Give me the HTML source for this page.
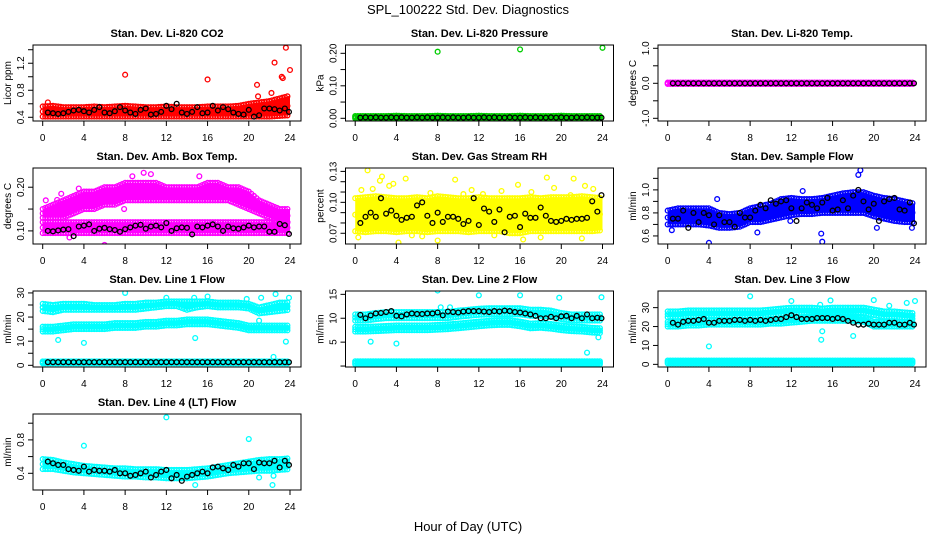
<!DOCTYPE html>
<html><head><meta charset="utf-8">
<style>
html,body{margin:0;padding:0;background:#fff;}
svg{display:block;font-family:"Liberation Sans",Arial,sans-serif;}
</style></head>
<body>
<svg id="chart" width="936" height="540" viewBox="0 0 936 540" xmlns="http://www.w3.org/2000/svg">
<rect width="936" height="540" fill="#fff"/>
<text x="468" y="14" text-anchor="middle" font-size="13">SPL_100222  Std. Dev. Diagnostics</text>
<text x="468" y="531" text-anchor="middle" font-size="13">Hour of Day (UTC)</text>
</svg>
<script>
const hours25=[0,1,2,3,4,5,6,7,8,9,10,11,12,13,14,15,16,17,18,19,20,21,22,23,24];
const hours48=[0.5,1,1.5,2,2.5,3,3.5,4,4.5,5,5.5,6,6.5,7,7.5,8,8.5,9,9.5,10,10.5,11,11.5,12,12.5,13,13.5,14,14.5,15,15.5,16,16.5,17,17.5,18,18.5,19,19.5,20,20.5,21,21.5,22,22.5,23,23.5,23.9];
const xTicks=[0,4,8,12,16,20,24];

const co2Lo=[0.41,0.41,0.41,0.41,0.41,0.41,0.41,0.41,0.41,0.41,0.41,0.41,0.41,0.41,0.41,0.41,0.41,0.41,0.41,0.41,0.41,0.41,0.41,0.42,0.43];
const co2Hi=[0.56,0.57,0.55,0.55,0.55,0.56,0.55,0.56,0.57,0.56,0.55,0.55,0.56,0.55,0.55,0.55,0.56,0.56,0.56,0.57,0.60,0.62,0.64,0.68,0.72];
const co2Black=[0.47,0.46,0.45,0.46,0.48,0.50,0.51,0.49,0.47,0.51,0.55,0.47,0.46,0.49,0.55,0.50,0.47,0.45,0.51,0.53,0.44,0.45,0.48,0.57,0.52,0.60,0.47,0.45,0.48,0.55,0.46,0.47,0.57,0.50,0.55,0.52,0.47,0.45,0.44,0.51,0.41,0.43,0.53,0.53,0.52,0.50,0.53,0.48];
const co2OutX=[8,16,20.8,20.9,22.5,23.3,23.2,23.6,24,0.5,22.2];
const co2OutY=[1.03,0.96,0.88,0.71,1.21,0.98,1.0,1.43,1.10,0.62,0.76];

const pressLo=[0,0,0,0,0,0,0,0,0,0,0,0,0,0,0,0,0,0,0,0,0,0,0,0,0];
const pressHi=[0.007,0.007,0.007,0.007,0.008,0.007,0.007,0.007,0.008,0.007,0.007,0.007,0.008,0.007,0.007,0.007,0.008,0.007,0.007,0.007,0.008,0.007,0.007,0.007,0.007];
const pressBlack=[0.002,0.003,0.002,0.003,0.002,0.002,0.003,0.002,0.003,0.002,0.002,0.003,0.002,0.003,0.002,0.002,0.003,0.002,0.003,0.002,0.002,0.003,0.002,0.002,0.003,0.002,0.003,0.002,0.002,0.003,0.002,0.002,0.003,0.002,0.003,0.002,0.002,0.003,0.002,0.003,0.002,0.002,0.003,0.002,0.003,0.002,0.002,0.002];
const pressOutX=[8,16,24];
const pressOutY=[0.205,0.212,0.217];

const tempLo=[-0.02,-0.02,-0.02,-0.02,-0.02,-0.02,-0.02,-0.02,-0.02,-0.02,-0.02,-0.02,-0.02,-0.02,-0.02,-0.02,-0.02,-0.02,-0.02,-0.02,-0.02,-0.02,-0.02,-0.02,-0.02];
const tempHi=[0.02,0.02,0.02,0.02,0.02,0.02,0.02,0.02,0.02,0.02,0.02,0.02,0.02,0.02,0.02,0.02,0.02,0.02,0.02,0.02,0.02,0.02,0.02,0.02,0.02];
const tempBlack=[0,0,0,0,0,0,0,0,0,0,0,0,0,0,0,0,0,0,0,0,0,0,0,0,0,0,0,0,0,0,0,0,0,0,0,0,0,0,0,0,0,0,0,0,0,0,0,0];

const ambUpLo=[0.13,0.13,0.13,0.14,0.15,0.15,0.16,0.16,0.17,0.17,0.17,0.17,0.17,0.17,0.17,0.17,0.17,0.17,0.17,0.16,0.15,0.14,0.13,0.12,0.12];
const ambUpHi=[0.15,0.16,0.17,0.18,0.19,0.19,0.20,0.20,0.21,0.21,0.21,0.21,0.20,0.20,0.20,0.20,0.21,0.21,0.20,0.20,0.19,0.17,0.16,0.15,0.15];
const ambLowLo=[0.095,0.095,0.095,0.095,0.095,0.095,0.095,0.095,0.095,0.095,0.095,0.095,0.095,0.095,0.095,0.095,0.095,0.095,0.095,0.095,0.095,0.095,0.095,0.095,0.095];
const ambLowHi=[0.12,0.12,0.12,0.12,0.12,0.12,0.12,0.12,0.12,0.12,0.12,0.12,0.12,0.12,0.12,0.12,0.12,0.12,0.12,0.12,0.12,0.12,0.12,0.12,0.12];
const ambBlack=[0.100,0.099,0.101,0.103,0.104,0.088,0.110,0.112,0.115,0.100,0.105,0.107,0.104,0.102,0.098,0.104,0.108,0.112,0.114,0.105,0.110,0.112,0.108,0.118,0.100,0.106,0.108,0.107,0.092,0.110,0.108,0.112,0.115,0.110,0.100,0.110,0.106,0.105,0.108,0.112,0.108,0.110,0.110,0.098,0.098,0.116,0.113,0.093];
const ambOutX=[0.3,1.4,1.8,3.5,8.7,9.8,10.5,15.2,6,2.6,7.9];
const ambOutY=[0.170,0.171,0.185,0.197,0.225,0.233,0.230,0.225,0.068,0.085,0.150];

const rhLo=[0.072,0.071,0.072,0.072,0.071,0.072,0.072,0.071,0.072,0.072,0.072,0.071,0.072,0.072,0.072,0.070,0.070,0.072,0.072,0.072,0.072,0.072,0.072,0.072,0.073];
const rhHi=[0.104,0.105,0.106,0.105,0.104,0.104,0.105,0.104,0.106,0.105,0.104,0.104,0.105,0.104,0.104,0.104,0.104,0.105,0.104,0.105,0.105,0.105,0.106,0.105,0.104];
const rhBlack=[0.080,0.086,0.090,0.086,0.104,0.089,0.092,0.087,0.083,0.085,0.086,0.097,0.100,0.087,0.080,0.090,0.081,0.086,0.086,0.084,0.079,0.082,0.104,0.078,0.094,0.091,0.081,0.093,0.071,0.086,0.087,0.076,0.089,0.085,0.085,0.095,0.087,0.082,0.081,0.082,0.084,0.083,0.084,0.084,0.085,0.101,0.091,0.107];
const rhOutX=[1.2,0.3,0.6,2.6,2.4,3.7,4.2,1.7,4.9,5.5,7.3,8.0,9.7,11.3,12.4,14.2,15.8,16.3,17.1,18.6,19.3,21.2,22.3,23.1,0.5,3.3,10.5,20.9,22.0,6.5,13.5,18.0];
const rhOutY=[0.131,0.066,0.112,0.125,0.121,0.118,0.061,0.113,0.123,0.068,0.109,0.063,0.122,0.112,0.108,0.111,0.117,0.064,0.110,0.124,0.114,0.123,0.116,0.113,0.101,0.116,0.108,0.107,0.065,0.067,0.068,0.066];

const sampleLo=[0.70,0.70,0.70,0.70,0.69,0.67,0.67,0.68,0.72,0.72,0.74,0.76,0.78,0.79,0.79,0.80,0.80,0.80,0.80,0.80,0.77,0.75,0.73,0.72,0.72];
const sampleHi=[0.82,0.84,0.84,0.84,0.84,0.80,0.79,0.80,0.84,0.86,0.88,0.92,0.93,0.92,0.92,0.93,0.95,0.97,0.98,0.98,0.95,0.93,0.92,0.90,0.88];
const sampleBlack=[0.75,0.75,0.82,0.67,0.80,0.72,0.80,0.78,0.70,0.78,0.72,0.72,0.68,0.80,0.76,0.76,0.82,0.87,0.84,0.91,0.88,0.90,0.91,0.84,0.73,0.84,0.89,0.87,0.84,0.89,0.93,0.82,0.83,0.91,0.84,0.95,1.00,0.90,0.83,0.88,0.73,0.90,0.92,0.93,0.83,0.82,0.89,0.71];
const sampleOutX=[4,15,14.9,18.7,18.5,13.1,0.4,8.7,6.7,11.9,20.3,23.7,4.8];
const sampleOutY=[0.54,0.55,0.62,1.17,1.13,0.99,0.65,0.63,0.73,0.73,0.67,0.67,0.92];

const l1UpLo=[22.5,22,23,23,23,23,23,23,23,23,23.5,24,24.5,24.5,23,24,24.5,24,24,24,23.5,21.5,22,22.5,23];
const l1UpHi=[25.5,25,25.5,25.5,25.5,25,25,25,25.5,25.5,26,26,26.5,26.5,26.5,26.5,26.5,26,26,26,25.5,24,25,26,26];
const l1MidLo=[14,14,14.5,15,15,15,15,15.5,15.5,15.5,16,16,16.5,16.5,17,17,17,16.5,16,15.5,14.5,14.5,14.5,14.5,14.5];
const l1MidHi=[16,16,16.5,17,17,17,17,17.5,17.5,17.5,18,18,18.5,18.5,19,19,19,18.5,18,17.5,16.5,16.5,16.5,16.5,16.5];
const l1BotLo=[0.8,0.8,0.8,0.8,0.8,0.8,0.8,0.8,0.8,0.8,0.8,0.8,0.8,0.8,0.8,0.8,0.8,0.8,0.8,0.8,0.8,0.8,0.8,0.8,0.8];
const l1BotHi=[1.6,1.6,1.6,1.6,1.6,1.6,1.6,1.6,1.6,1.6,1.6,1.6,1.6,1.6,1.6,1.6,1.6,1.6,1.6,1.6,1.6,1.6,1.6,1.6,1.6];
const l1Black=[1.3,1.3,1.3,1.3,1.3,1.3,1.3,1.3,1.3,1.3,1.3,1.3,1.3,1.3,1.3,1.3,1.3,1.3,1.3,1.3,1.3,1.3,1.3,1.3,1.3,1.3,1.3,1.3,1.3,1.3,1.3,1.3,1.3,1.3,1.3,1.3,1.3,1.3,1.3,1.3,1.3,1.3,1.3,1.3,1.3,1.3,1.3,1.3];
const l1OutX=[8,12,14.7,16,19.8,21.2,22.6,23.9,1.5,4,14.8,23.6,21,22.4];
const l1OutY=[30,28,28,28.5,27.5,28,29.5,28,10.5,9.3,11.3,9.8,18.5,3.5];

const l2UpLo=[9.5,9.5,9.8,10,10,10,10,10,10,10,10.3,10.5,10.7,10.8,10.8,10.8,10.8,10.5,10.5,10.3,9.8,9.5,9.5,9.5,9.5];
const l2UpHi=[10.8,10.8,11.1,11.3,11.3,11.3,11.3,11.3,11.3,11.3,11.6,11.8,12,12.1,12.1,12.1,12.1,11.8,11.8,11.6,11.1,10.8,10.8,10.8,10.8];
const l2MidLo=[7.2,7.2,7.3,7.4,7.5,7.5,7.5,7.5,7.6,7.7,7.9,8.1,8.3,8.5,8.6,8.6,8.3,7.9,8.0,7.8,7.5,7.3,7.2,7.0,6.9];
const l2MidHi=[8.2,8.2,8.3,8.4,8.5,8.5,8.5,8.5,8.6,8.7,8.9,9.1,9.3,9.5,9.6,9.6,9.3,8.9,9.0,8.8,8.5,8.3,8.2,8.0,7.9];
const l2BotLo=[0.4,0.4,0.4,0.4,0.4,0.4,0.4,0.4,0.4,0.4,0.4,0.4,0.4,0.4,0.4,0.4,0.4,0.4,0.4,0.4,0.4,0.4,0.4,0.4,0.4];
const l2BotHi=[1.0,1.0,1.0,1.0,1.0,1.0,1.0,1.0,1.0,1.0,1.0,1.0,1.0,1.0,1.0,1.0,1.0,1.0,1.0,1.0,1.0,1.0,1.0,1.0,1.0];
const l2Black=[10.7,10.0,10.6,11.0,11.1,11.3,11.5,10.5,10.4,10.8,11.0,10.9,10.9,11.0,11.0,11.2,10.6,11.4,11.3,11.2,11.4,11.5,11.5,11.5,11.4,11.3,11.5,11.4,11.6,11.5,11.3,11.2,11.0,10.8,10.5,10.0,10.0,10.3,10.0,10.4,10.5,10.0,10.5,10.0,10.8,10.0,10.1,10.0];
const l2OutX=[8,12,16,19.8,23.9,1.5,4,22.5,23.6,8.3,9.2];
const l2OutY=[15.8,14.8,14.8,14.3,14.4,5.1,4.7,2.8,6.0,12.3,12.3];

const l3UpLo=[25,25,25.5,25.5,25.5,25.5,25.5,25.5,25.5,25.5,26,26.5,27,27,27,26.5,27,27,27,27,26,25,25,24.5,24];
const l3UpHi=[28,28,28.5,28.5,28.5,28.5,28.5,28.5,28.5,28.5,29,29.5,30,30,30,29.5,30,30,30,30,29,28,28,27.5,27];
const l3MidLo=[20,20,20.5,20.5,21,21,21,21,21,21,21.5,21.5,22,22.5,23,23,23,23,23,22.5,20,20,20,20,20];
const l3MidHi=[22.5,22.5,23,23,23.5,23.5,23.5,23.5,23.5,23.5,24,24,24.5,25,25.5,25.5,25.5,25.5,25.5,25,22.5,22.5,22.5,22.5,22.5];
const l3BotLo=[0.5,0.5,0.5,0.5,0.5,0.5,0.5,0.5,0.5,0.5,0.5,0.5,0.5,0.5,0.5,0.5,0.5,0.5,0.5,0.5,0.5,0.5,0.5,0.5,0.5];
const l3BotHi=[2,2,2,2,2,2,2,2,2,2,2,2,2,2,2,2,2,2,2,2,2,2,2,2,2];
const l3Black=[22,21,22.5,23,23,23.5,24,22,22,23,23,23,23.5,23.5,23,23.5,23,23.5,23,23.5,24,24,25,26,25,24,24,24,24.5,24.5,24.5,24,24.5,24,23,22,21,21,21.5,21,21,21,22,22,21,21,22,21];
const l3OutX=[8,12,15.8,20,24,4,14.9,15,18,21.5,23.2,14.8];
const l3OutY=[36,33.5,33.8,34,33.5,9.5,13,17.5,15,31,32.5,31.5];

const l4Lo=[0.45,0.45,0.43,0.41,0.40,0.39,0.38,0.37,0.36,0.36,0.35,0.35,0.34,0.34,0.34,0.35,0.36,0.38,0.40,0.41,0.42,0.43,0.43,0.44,0.45];
const l4Hi=[0.57,0.56,0.53,0.51,0.49,0.48,0.47,0.46,0.46,0.45,0.45,0.45,0.44,0.44,0.44,0.45,0.46,0.48,0.50,0.52,0.54,0.56,0.57,0.57,0.58];
const l4Black=[0.54,0.52,0.50,0.50,0.45,0.44,0.43,0.48,0.42,0.44,0.43,0.43,0.42,0.44,0.40,0.40,0.37,0.38,0.40,0.42,0.35,0.38,0.42,0.44,0.34,0.38,0.31,0.36,0.38,0.40,0.42,0.40,0.47,0.48,0.46,0.44,0.50,0.48,0.52,0.52,0.45,0.53,0.52,0.52,0.55,0.47,0.55,0.50];
const l4OutX=[4,12,20,22.3,14.8,21,22.4];
const l4OutY=[0.73,1.07,0.81,0.26,0.26,0.35,0.37];

const panels=[
 {name:"co2",title:"Stan. Dev. Li-820 CO2",ylab:"Licor ppm",col:0,row:0,ylim:[0.345,1.47],ticks:[0.4,0.6,0.8,1.0,1.2,1.4],labels:["0.4","","0.8","","1.2",""],color:"#ff0000",bands:[[co2Lo,co2Hi]],black:co2Black,ox:co2OutX,oy:co2OutY},
 {name:"pressure",title:"Stan. Dev. Li-820 Pressure",ylab:"kPa",col:1,row:0,ylim:[-0.0083,0.2256],ticks:[0,0.05,0.1,0.15,0.2],labels:["0.00","","0.10","","0.20"],color:"#00cd00",bands:[[pressLo,pressHi]],black:pressBlack,ox:pressOutX,oy:pressOutY},
 {name:"temp",title:"Stan. Dev. Li-820 Temp.",ylab:"degrees C",col:2,row:0,ylim:[-1.077,1.094],ticks:[-1,-0.5,0,0.5,1],labels:["-1.0","","0.0","","1.0"],color:"#ff00ff",bands:[[tempLo,tempHi]],black:tempBlack,ox:[],oy:[]},
 {name:"amb-box-temp",title:"Stan. Dev. Amb. Box Temp.",ylab:"degrees C",col:0,row:1,ylim:[0.070,0.244],ticks:[0.10,0.15,0.20],labels:["0.10","","0.20"],color:"#ff00ff",bands:[[ambUpLo,ambUpHi],[ambLowLo,ambLowHi]],black:ambBlack,ox:ambOutX,oy:ambOutY},
 {name:"gas-rh",title:"Stan. Dev. Gas Stream RH",ylab:"percent",col:1,row:1,ylim:[0.0596,0.1333],ticks:[0.07,0.08,0.09,0.10,0.11,0.12,0.13],labels:["0.07","","","0.10","","","0.13"],color:"#ffff00",bands:[[rhLo,rhHi]],black:rhBlack,ox:rhOutX,oy:rhOutY},
 {name:"sample-flow",title:"Stan. Dev. Sample Flow",ylab:"ml/min",col:2,row:1,ylim:[0.53,1.19],ticks:[0.6,0.7,0.8,0.9,1.0,1.1],labels:["0.6","","0.8","","1.0",""],color:"#0000ff",bands:[[sampleLo,sampleHi]],black:sampleBlack,ox:sampleOutX,oy:sampleOutY},
 {name:"line1-flow",title:"Stan. Dev. Line 1 Flow",ylab:"ml/min",col:0,row:2,ylim:[-0.7,30.8],ticks:[0,5,10,15,20,25,30],labels:["0","","10","","20","","30"],color:"#00ffff",bands:[[l1UpLo,l1UpHi],[l1MidLo,l1MidHi],[l1BotLo,l1BotHi]],black:l1Black,ox:l1OutX,oy:l1OutY},
 {name:"line2-flow",title:"Stan. Dev. Line 2 Flow",ylab:"ml/min",col:1,row:2,ylim:[-0.2,15.7],ticks:[0,5,10,15],labels:["","5","10","15"],color:"#00ffff",bands:[[l2UpLo,l2UpHi],[l2MidLo,l2MidHi],[l2BotLo,l2BotHi]],black:l2Black,ox:l2OutX,oy:l2OutY},
 {name:"line3-flow",title:"Stan. Dev. Line 3 Flow",ylab:"ml/min",col:2,row:2,ylim:[-1.4,38.8],ticks:[0,10,20,30],labels:["0","10","20","30"],color:"#00ffff",bands:[[l3UpLo,l3UpHi],[l3MidLo,l3MidHi],[l3BotLo,l3BotHi]],black:l3Black,ox:l3OutX,oy:l3OutY},
 {name:"line4-flow",title:"Stan. Dev. Line 4 (LT) Flow",ylab:"ml/min",col:0,row:3,ylim:[0.2,1.11],ticks:[0.4,0.6,0.8,1.0],labels:["0.4","","0.8",""],color:"#00ffff",bands:[[l4Lo,l4Hi]],black:l4Black,ox:l4OutX,oy:l4OutY}
];

const svg=document.getElementById('chart');
const NS="http://www.w3.org/2000/svg";
function mk(tag,attrs,parent){const e=document.createElementNS(NS,tag);for(const k in attrs)e.setAttribute(k,attrs[k]);parent.appendChild(e);return e;}

panels.forEach(p=>{
  const bx=33+p.col*312.5, bw=268, by=45+p.row*123, bh=76;
  const x0=bx+9.7, xw=247.3;
  const xs=v=>x0+v/24*xw;
  const ys=v=>by+bh-(v-p.ylim[0])/(p.ylim[1]-p.ylim[0])*bh;
  const g=mk('g',{},svg);
  
  
  const clipId='clip-'+p.name;
  const cp=mk('clipPath',{id:clipId},g);
  mk('rect',{x:bx,y:by,width:bw,height:bh},cp);
  const pg=mk('g',{'clip-path':'url(#'+clipId+')'},g);
  
  
  p.bands.forEach(([lo,hi])=>{
    let pts=[];
    hours25.forEach((h,i)=>pts.push(xs(h)+','+ys(hi[i])));
    for(let i=hours25.length-1;i>=0;i--)pts.push(xs(hours25[i])+','+ys(lo[i]));
    const poly=mk('polygon',{points:pts.join(' '),fill:p.color},pg);
    
    
    for(let i=0;i<hours25.length-1;i++){
      for(let s=0;s<4;s++){
        const t=s/4,h=hours25[i]+t;
        const l=lo[i]+(lo[i+1]-lo[i])*t, u=hi[i]+(hi[i+1]-hi[i])*t;
        [l,u,(l+u)/2].forEach(v=>{
          mk('circle',{cx:xs(h),cy:ys(v),r:2.4,fill:'none',stroke:p.color,'stroke-width':1.3},pg);
        });
      }
    }
  });
  p.ox.forEach((x,i)=>{
    const c=mk('circle',{cx:xs(x),cy:ys(p.oy[i]),r:2.4,fill:'none',stroke:p.color,'stroke-width':1.3},pg);
    
    
  });
  p.black.forEach((v,i)=>{
    const c=mk('circle',{cx:xs(hours48[i]),cy:ys(v),r:2.4,fill:'none',stroke:'#000','stroke-width':1.3},pg);
    
    
  });
  const box=mk('rect',{x:bx,y:by,width:bw,height:bh,fill:'none',stroke:'#000','stroke-width':1},g);
  
  
  const t=mk('text',{x:bx+bw/2,y:by-8,'text-anchor':'middle','font-size':11,'font-weight':'bold'},g);
  t.textContent=p.title;
  
  
  const xa=mk('g',{},g);
  
  
  mk('line',{x1:xs(0),x2:xs(24),y1:by+bh,y2:by+bh,stroke:'#000'},xa);
  xTicks.forEach(v=>{
    mk('line',{x1:xs(v),x2:xs(v),y1:by+bh,y2:by+bh+5,stroke:'#000'},xa);
    const tl=mk('text',{x:xs(v),y:by+bh+20,'text-anchor':'middle','font-size':10},xa);
    tl.textContent=v;
  });
  const ya=mk('g',{},g);
  
  
  mk('line',{x1:bx,x2:bx,y1:ys(p.ticks[0]),y2:ys(p.ticks[p.ticks.length-1]),stroke:'#000'},ya);
  p.ticks.forEach((v,i)=>{
    const y=ys(v);
    mk('line',{x1:bx,x2:bx-5,y1:y,y2:y,stroke:'#000'},ya);
    if(p.labels[i]){
      const tl=mk('text',{x:bx-9,y:y,'text-anchor':'middle','font-size':10,transform:'rotate(-90 '+(bx-9)+' '+y+')'},ya);
      tl.textContent=p.labels[i];
    }
  });
  const yl=mk('text',{x:bx-22,y:by+bh/2,'text-anchor':'middle','font-size':10,transform:'rotate(-90 '+(bx-22)+' '+(by+bh/2)+')'},g);
  yl.textContent=p.ylab;
  
  
});
</script>
</body></html>
